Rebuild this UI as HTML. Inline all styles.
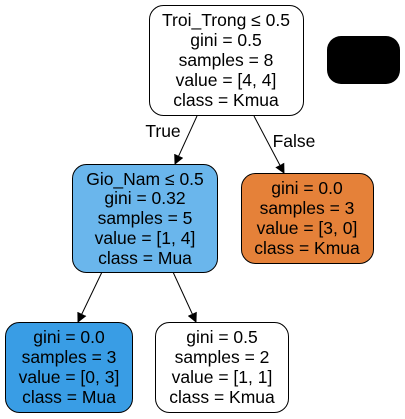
<!DOCTYPE html>
<html><head><meta charset="utf-8"><style>
html,body{margin:0;padding:0;background:#fff;}
svg{display:block;font-family:"Liberation Sans",Arial,sans-serif;}
text{font-size:17.5px;fill:#000;text-anchor:middle;}
</style></head><body>
<svg width="405" height="419" viewBox="0 0 405 419">
<defs><marker id="ah" markerWidth="10" markerHeight="10" refX="9" refY="5" orient="auto" markerUnits="userSpaceOnUse"><path d="M0,0 L10,5 L0,10 z" fill="#000"/></marker></defs>
<g>
<line x1="197" y1="116" x2="175" y2="164" stroke="#000" marker-end="url(#ah)"/>
<line x1="254" y1="116" x2="284" y2="173" stroke="#000" marker-end="url(#ah)"/>
<line x1="102" y1="272" x2="78" y2="322" stroke="#000" marker-end="url(#ah)"/>
<line x1="173" y1="272" x2="196" y2="322" stroke="#000" marker-end="url(#ah)"/>
<text x="163" y="137">True</text>
<text x="294" y="147">False</text>
</g>
<g>
<rect x="149.5" y="5.5" width="154" height="110" rx="14" fill="#fff" stroke="#000"/>
<text x="226" y="26">Troi_Trong ≤ 0.5</text><text x="226" y="46">gini = 0.5</text><text x="226" y="66">samples = 8</text><text x="226" y="86">value = [4, 4]</text><text x="226" y="106">class = Kmua</text>
</g>
<rect x="327" y="36" width="73" height="48" rx="14" fill="#000"/>
<g>
<rect x="72.5" y="164.5" width="145" height="108" rx="14" fill="#6ab6ec" stroke="#000"/>
<text x="145" y="185">Gio_Nam ≤ 0.5</text><text x="145" y="204">gini = 0.32</text><text x="145" y="224">samples = 5</text><text x="145" y="244">value = [1, 4]</text><text x="145" y="264">class = Mua</text>
</g>
<g>
<rect x="241.5" y="173.5" width="132" height="90" rx="14" fill="#e58139" stroke="#000"/>
<text x="307" y="194">gini = 0.0</text><text x="307" y="214">samples = 3</text><text x="307" y="234">value = [3, 0]</text><text x="307" y="254">class = Kmua</text>
</g>
<g>
<rect x="5.5" y="322.5" width="127" height="90" rx="14" fill="#399de5" stroke="#000"/>
<text x="69" y="343">gini = 0.0</text><text x="69" y="363">samples = 3</text><text x="69" y="383">value = [0, 3]</text><text x="69" y="403">class = Mua</text>
</g>
<g>
<rect x="155.5" y="322.5" width="133" height="90" rx="14" fill="#fff" stroke="#000"/>
<text x="222" y="343">gini = 0.5</text><text x="222" y="363">samples = 2</text><text x="222" y="383">value = [1, 1]</text><text x="222" y="403">class = Kmua</text>
</g>
</svg>
</body></html>
